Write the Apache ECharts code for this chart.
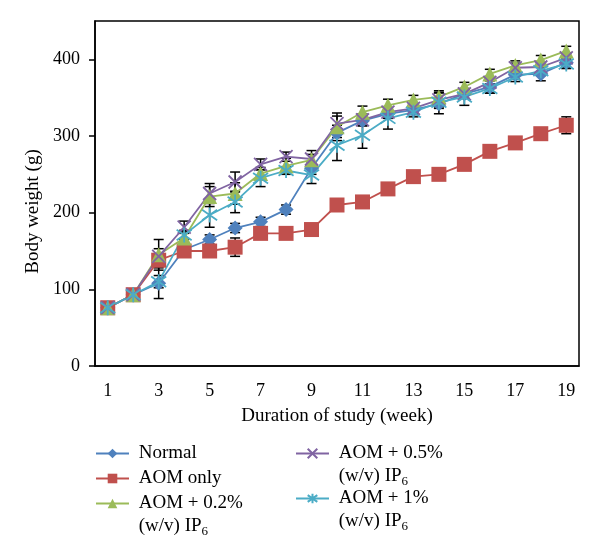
<!DOCTYPE html>
<html><head><meta charset="utf-8">
<script src="https://cdn.jsdelivr.net/npm/echarts@6/dist/echarts.min.js"></script>
<style>html,body{margin:0;padding:0;background:#fff}#c{width:600px;height:560px}</style>
</head><body><div id="c"></div>
<script>
const weeks = ['1','2','3','4','5','6','7','8','9','10','11','12','13','14','15','16','17','18','19'];
const yTicks = [0, 100, 200, 300, 400];

const normal   = [76, 93, 108, 152, 165, 180, 188, 204, 258, 304, 320, 329, 334, 342, 355, 364, 380, 381, 396];
const aomOnly  = [76, 93, 138, 150, 150, 155, 173, 173, 178, 210, 214, 231, 247, 250, 263, 280, 291, 303, 314];
const ip02     = [76, 93, 145, 167, 221, 225, 251, 261, 269, 312, 331, 340, 347, 351, 364, 381, 392, 399, 411];
const ip05     = [76, 93, 143, 181, 225, 240, 263, 273, 270, 316, 321, 331, 336, 347, 355, 370, 389, 390, 402];
const ip1      = [76, 93, 110, 171, 197, 214, 245, 255, 249, 288, 301, 323, 331, 344, 351, 362, 377, 385, 394];

const normalErr  = [3, 4, 20, 8, 6, 6, 6, 6, 8, 10, 6, 6, 6, 6, 6, 8, 6, 9, 6];
const aomOnlyErr = [3, 3, 8, 6, 6, 12, 6, 6, 6, 6, 6, 6, 6, 6, 6, 6, 6, 6, 11];
const ip02Err    = [3, 3, 20, 8, 13, 14, 8, 10, 12, 14, 8, 8, 6, 6, 6, 6, 6, 6, 6];
const ip05Err    = [3, 3, 10, 8, 13, 13, 7, 6, 6, 14, 8, 6, 6, 9, 6, 6, 6, 6, 6];
const ip1Err     = [3, 3, 8, 6, 16, 14, 11, 5, 11, 20, 17, 14, 6, 15, 11, 6, 6, 6, 6];

const names = ['Normal', 'AOM only', 'AOM + 0.2% (w/v) IP6', 'AOM + 0.5% (w/v) IP6', 'AOM + 1% (w/v) IP6'];

const FONT = 'Liberation Serif';
const chart = echarts.init(document.getElementById('c'));

const X_PATH = 'path://M0,0L10,10M10,0L0,10';
const STAR_PATH = 'path://M1.5,1.5L8.5,8.5M8.5,1.5L1.5,8.5M5,0L5,10';

function lineSeries(name, data, color, symbol, size, stroke) {
  return {
    name, type: 'line', data, z: 3,
    symbol, symbolSize: size, showAllSymbol: true,
    lineStyle: { color, width: 1.8 },
    itemStyle: stroke ? { color, borderColor: color, borderWidth: 1.8 } : { color },
    emphasis: { disabled: true }
  };
}
function errSeries(vals, errs) {
  return {
    type: 'custom', z: 1, silent: true,
    data: vals.map((v, i) => [i, v, errs[i]]),
    encode: { x: 0, y: 1 },
    renderItem(params, api) {
      const x = api.value(0), v = api.value(1), e = api.value(2);
      const hi = api.coord([x, v + e]), lo = api.coord([x, v - e]);
      const w = 5, st = { stroke: '#000', lineWidth: 1.5 };
      return { type: 'group', children: [
        { type: 'line', shape: { x1: hi[0], y1: hi[1], x2: lo[0], y2: lo[1] }, style: st },
        { type: 'line', shape: { x1: hi[0] - w, y1: hi[1], x2: hi[0] + w, y2: hi[1] }, style: st },
        { type: 'line', shape: { x1: lo[0] - w, y1: lo[1], x2: lo[0] + w, y2: lo[1] }, style: st }
      ]};
    }
  };
}

const legendText = {
  'Normal': '{t| Normal}',
  'AOM only': '{t| AOM only}',
  'AOM + 0.2% (w/v) IP6': '{t| }\n{t| AOM + 0.2%}\n{t| (w/v) IP}{s|6}',
  'AOM + 0.5% (w/v) IP6': '{t| }\n{t| AOM + 0.5%}\n{t| (w/v) IP}{s|6}',
  'AOM + 1% (w/v) IP6': '{t| }\n{t| AOM + 1%}\n{t| (w/v) IP}{s|6}'
};
function legendFor(name, left, top) {
  return {
    data: [name], left, top, orient: 'vertical', padding: 0,
    itemWidth: 33, itemHeight: 12, selectedMode: false,
    formatter: n => legendText[n],
    textStyle: {
      color: '#000', fontFamily: FONT, fontSize: 19,
      rich: {
        t: { fontFamily: FONT, fontSize: 19, lineHeight: 23, color: '#000' },
        s: { fontFamily: FONT, fontSize: 13, lineHeight: 23, color: '#000', padding: [10, 0, 0, 0] }
      }
    }
  };
}

chart.setOption({
  animation: false,
  backgroundColor: '#fff',
  grid: { left: 95, right: 21, top: 21, bottom: 194, show: true, borderColor: '#000', borderWidth: 1.5, backgroundColor: 'transparent' },
  xAxis: {
    type: 'category', data: weeks, boundaryGap: true,
    name: 'Duration of study (week)', nameLocation: 'middle', nameGap: 41,
    nameTextStyle: { fontFamily: FONT, fontSize: 19, color: '#000' },
    axisLine: { lineStyle: { color: '#000', width: 1.5 } },
    axisTick: { interval: 0, length: 5, lineStyle: { color: '#000', width: 1.5 } },
    axisLabel: { interval: 1, fontFamily: FONT, fontSize: 18, color: '#000', margin: 16 },
    splitLine: { show: false }
  },
  yAxis: {
    type: 'value', min: 0, max: 450, interval: 100,
    name: 'Body weight (g)', nameLocation: 'middle', nameGap: 50,
    nameTextStyle: { fontFamily: FONT, fontSize: 19, color: '#000', padding: [0, 36, 0, 0] },
    axisLine: { show: true, lineStyle: { color: '#000', width: 1.5 } },
    axisTick: { show: true, length: 6, lineStyle: { color: '#000', width: 1.5 } },
    axisLabel: { fontFamily: FONT, fontSize: 18, color: '#000', margin: 15, showMaxLabel: false,
      formatter: v => yTicks.includes(v) ? String(v) : '' },
    splitLine: { show: false }
  },
  legend: [
    legendFor(names[0], 95, 444),
    legendFor(names[1], 95, 469),
    legendFor(names[2], 95, 471),
    legendFor(names[3], 295, 421),
    legendFor(names[4], 295, 466)
  ],
  series: [
    errSeries(normal, normalErr),
    errSeries(aomOnly, aomOnlyErr),
    errSeries(ip02, ip02Err),
    errSeries(ip05, ip05Err),
    errSeries(ip1, ip1Err),
    lineSeries(names[0], normal, '#4f81bd', 'diamond', 15, false),
    lineSeries(names[1], aomOnly, '#c0504d', 'rect', 15, false),
    lineSeries(names[2], ip02, '#9bbb59', 'triangle', 15, false),
    lineSeries(names[3], ip05, '#8064a2', X_PATH, 13, true),
    lineSeries(names[4], ip1, '#4bacc6', STAR_PATH, 15, true)
  ]
});
</script>
</body></html>
